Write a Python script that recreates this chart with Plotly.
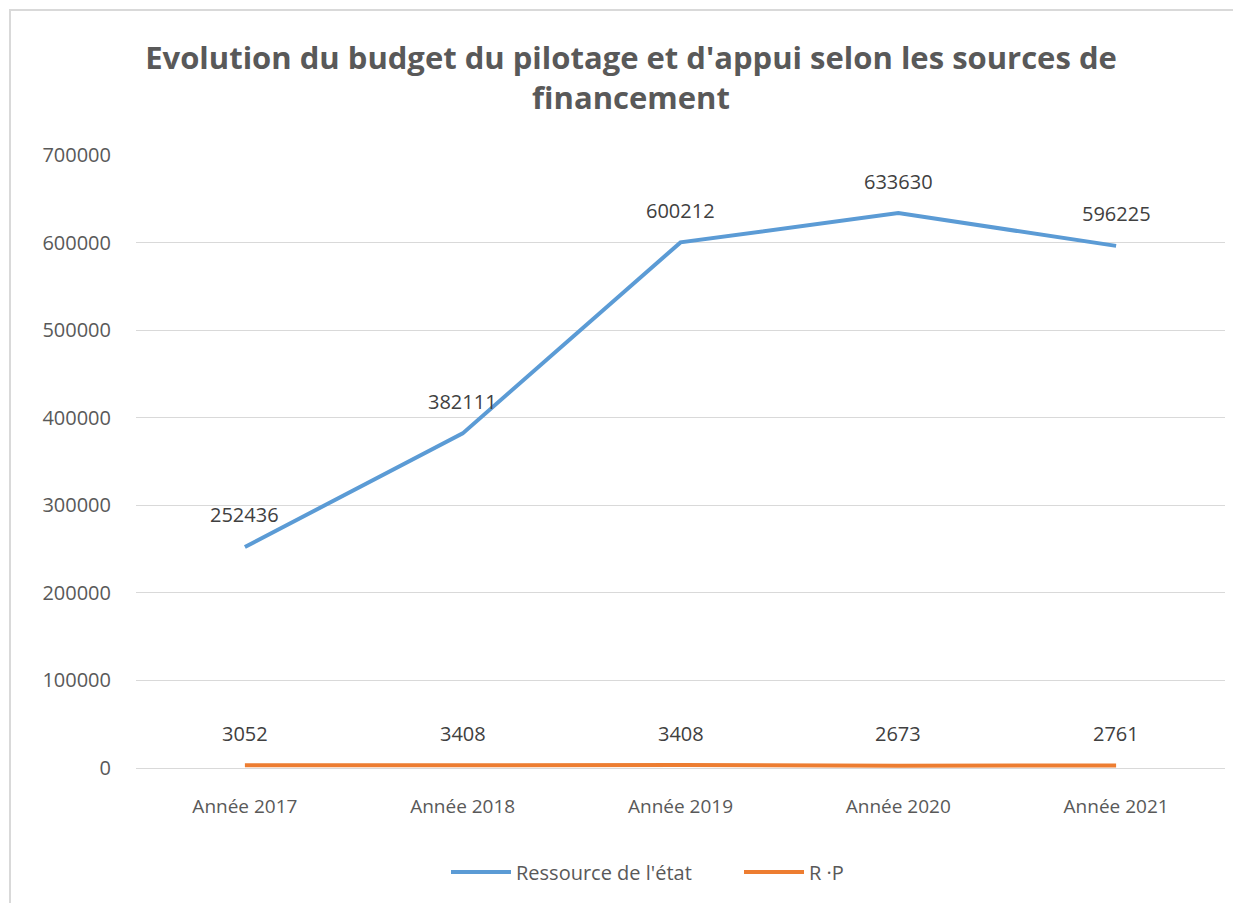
import plotly.graph_objects as go

categories = ["Année 2017", "Année 2018", "Année 2019", "Année 2020", "Année 2021"]
etat = [252436, 382111, 600212, 633630, 596225]
rp = [3052, 3408, 3408, 2673, 2761]
series_names = ["Ressource de l'état", "R ·P"]
colors = ["#5B9BD5", "#ED7D31"]

FONT = "Open Sans"
GRAY = "#595959"

fig = go.Figure()
for name, vals, col in zip(series_names, [etat, rp], colors):
    fig.add_trace(go.Scatter(x=categories, y=vals, name=name, mode="lines",
                             line=dict(color=col, width=4)))

annotations = []
for vals in [etat, rp]:
    for c, v in zip(categories, vals):
        annotations.append(dict(x=c, y=v, text=str(v), showarrow=False,
                                yshift=32, font=dict(family=FONT, size=20, color="#404040")))

# page body offset of 8px
OFF = 8
W, H = 1241, 903
L, R, T, B = 136 - OFF, 1241 - (1225 - OFF), 155 - OFF, 903 - (768 - OFF)
pw, ph = W - L - R, H - T - B
def px_x(p): return (p - OFF - L) / pw
def px_y(p): return (H - B - (p - OFF)) / ph

fig.update_layout(
    width=W, height=H,
    margin=dict(l=L, r=R, t=T, b=B),
    paper_bgcolor="white", plot_bgcolor="white",
    title=dict(text="Evolution du budget du pilotage et d'appui selon les sources de<br>financement",
               xref="container", x=(631 - OFF) / W, xanchor="center",
               yref="container", y=1 - 61 / H, yanchor="middle",
               font=dict(family=FONT, size=31, color=GRAY, weight="bold")),
    xaxis=dict(showgrid=False, showline=True, linecolor="#D9D9D9", linewidth=1,
               tickfont=dict(family=FONT, size=19, color=GRAY), ticks="",
               ticklabelstandoff=21, range=[-0.5, 4.5]),
    yaxis=dict(range=[0, 700000], dtick=100000, showgrid=True, gridcolor="#D9D9D9",
               gridwidth=1, zeroline=False, tickformat="d",
               tickfont=dict(family=FONT, size=20, color=GRAY), ticks="",
               ticklabelstandoff=24),
    legend=dict(orientation="h", x=px_x(446), xanchor="left", y=px_y(872), yanchor="middle",
                font=dict(family=FONT, size=20, color=GRAY), itemwidth=60,
                entrywidth=218, entrywidthmode="pixels"),
    annotations=annotations,
    shapes=[dict(type="rect", xref="paper", yref="paper",
                 x0=px_x(10), x1=px_x(W + 10), y0=px_y(H + 10), y1=px_y(10),
                 line=dict(color="#D9D9D9", width=2), fillcolor="rgba(0,0,0,0)", layer="below")],
)

fig.write_html("out.html")
